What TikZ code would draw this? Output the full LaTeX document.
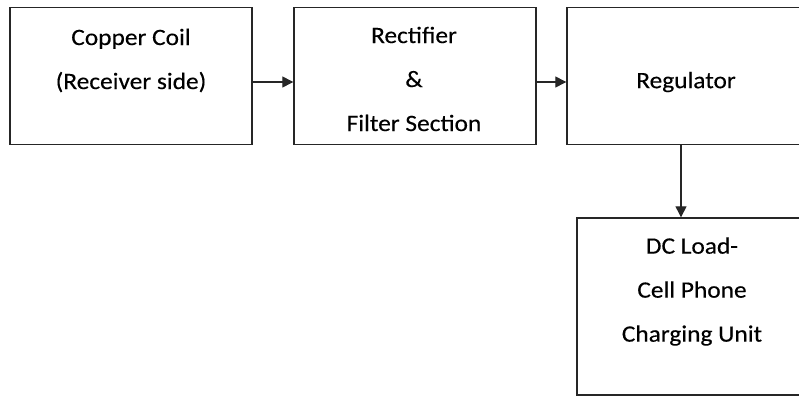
\documentclass[tikz,border=0pt]{standalone}
\usepackage{fontspec}
\setmainfont{Carlito}[FakeStretch=1.08,FakeBold=0.3]
\usetikzlibrary{arrows.meta}
\begin{document}
\begin{tikzpicture}[x=1pt,y=-1pt,
  block/.style={draw=black!85,line width=1.4pt,rectangle,inner sep=0pt},
  lbl/.style={align=center,inner sep=0pt,font=\fontsize{23.5}{44}\selectfont},
  flow/.style={draw=black!85,line width=1.3pt,-{Triangle[length=11pt,width=11pt]}}]
  \useasboundingbox (0,0) rectangle (799,396);
  \clip (0,0) rectangle (799,396);
  % blocks
  \node[block,minimum width=242pt,minimum height=137pt] (coil) at (131,76) {};
  \node[block,minimum width=242pt,minimum height=137pt] (rect) at (415,76) {};
  \node[block,minimum width=240pt,minimum height=137pt] (reg) at (687,76) {};
  \node[block,minimum width=232pt,minimum height=177pt] (load) at (693,306.5) {};
  % labels
  \node[lbl] (tcoil) at (131,60.5) {Copper Coil\\(Receiver side)};
  \node[lbl] (trect) at (414,79) {Rectifier\\\&\\Filter Section};
  \node[lbl] (treg) at (686,82) {Regulator};
  \node[lbl] (tload) at (692,291.5) {DC Load-\\Cell Phone\\Charging Unit};
  % connectors
  \draw[flow] (coil.east |- 0,82) -- (rect.west |- 0,82);
  \draw[flow] (rect.east |- 0,82) -- (reg.west |- 0,82);
  \draw[flow] (reg.south -| 681,0) -- (load.north -| 681,0);
\end{tikzpicture}
\end{document}
